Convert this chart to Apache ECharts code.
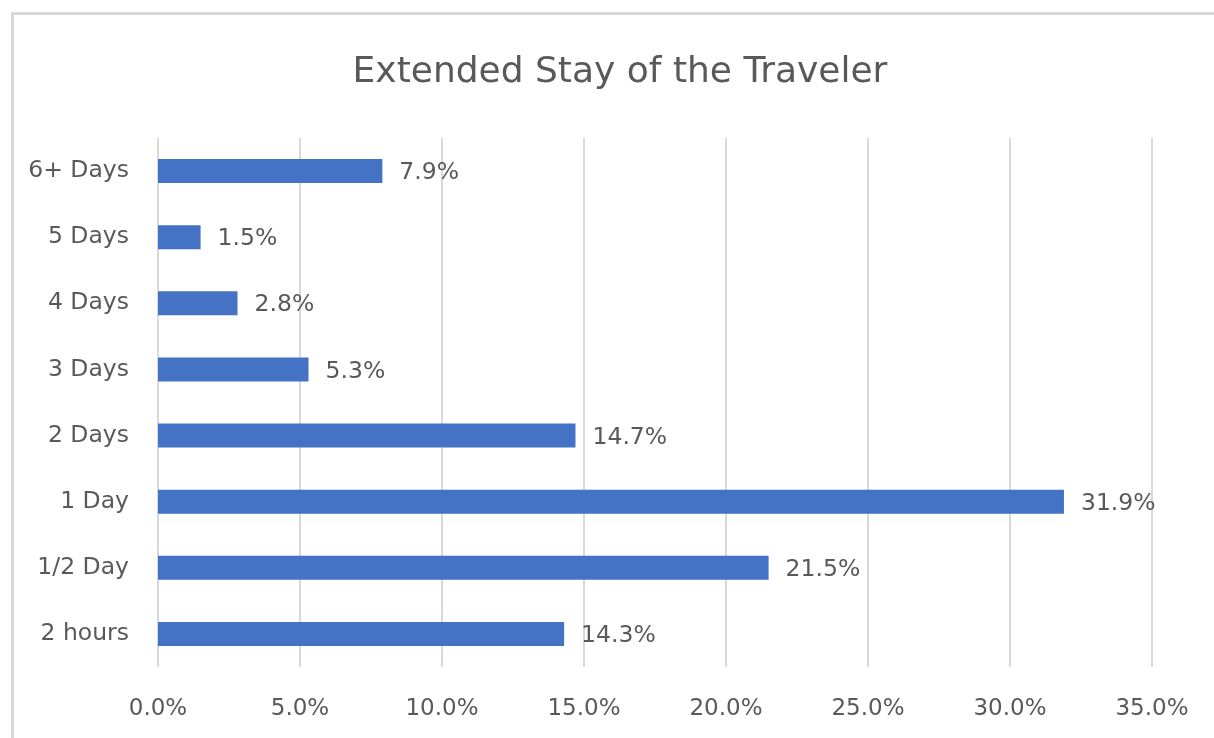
<!DOCTYPE html>
<html><head><meta charset="utf-8">
<script src="https://cdn.jsdelivr.net/npm/echarts@6/dist/echarts.min.js"></script>
<style>html,body{margin:0;padding:0;background:#fff}#c{width:1214px;height:738px}</style>
</head><body><div id="c"></div>
<script>
const title = 'Extended Stay of the Traveler';
const categories = ['2 hours','1/2 Day','1 Day','2 Days','3 Days','4 Days','5 Days','6+ Days'];
const values = [14.3, 21.5, 31.9, 14.7, 5.3, 2.8, 1.5, 7.9];
const FONT = '"DejaVu Sans", sans-serif';
const chart = echarts.init(document.getElementById('c'), null, {renderer:'canvas'});
chart.setOption({
  backgroundColor:'#fff',
  animation:false,
  graphic:[
    {type:'rect',shape:{x:12.5,y:13.5,width:1400,height:1000},style:{fill:'none',stroke:'#d9d9d9',lineWidth:3},silent:true},
    {type:'text',x:620,y:73,style:{text:title,align:'center',verticalAlign:'middle',font:'normal 36px "DejaVu Sans", sans-serif',fill:'#595959'},silent:true}
  ],
  grid:{left:158,right:62,top:138,bottom:71,containLabel:false},
  xAxis:{type:'value',min:0,max:35,interval:5,
    axisLine:{show:false},axisTick:{show:false},
    splitLine:{lineStyle:{color:'#d9d9d9',width:2}},
    axisLabel:{margin:31,fontFamily:FONT,fontSize:23,color:'#595959',formatter:v=>v.toFixed(1)+'%'}},
  yAxis:{type:'category',data:categories,
    axisLine:{show:false},axisTick:{show:false},
    axisLabel:{margin:29,padding:[4,0,0,0],fontFamily:FONT,fontSize:23.5,color:'#595959'}},
  series:[{type:'bar',data:values,barWidth:24,
    itemStyle:{color:'#4472c4'},
    label:{show:true,position:'right',distance:17,offset:[0,2],fontFamily:FONT,fontSize:23.5,color:'#595959',formatter:p=>p.value.toFixed(1)+'%'}}]
});
</script></body></html>
